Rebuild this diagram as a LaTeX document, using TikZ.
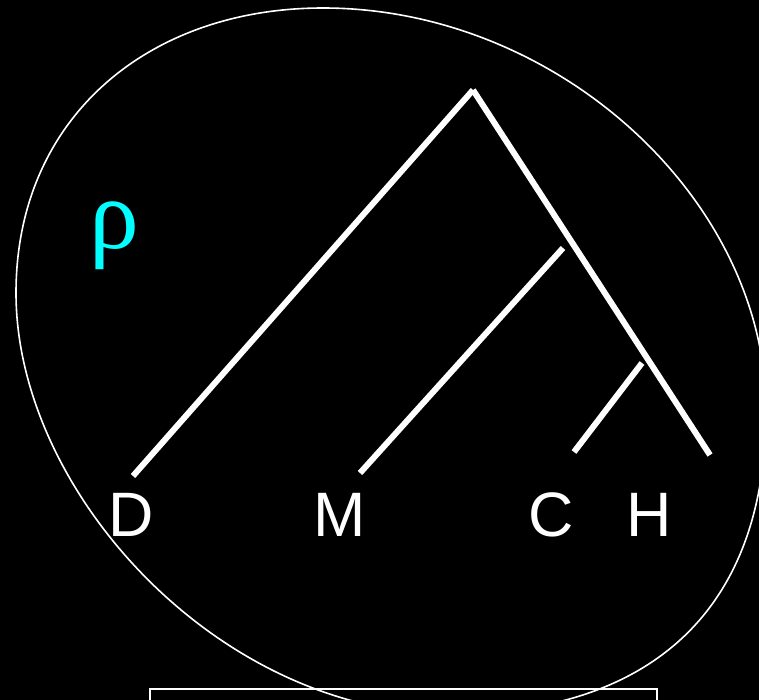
\documentclass[tikz,border=0pt]{standalone}
\usepackage{fontspec}
\setmainfont{Liberation Sans}
\newfontfamily\rhofont{Liberation Serif}
\definecolor{rhocyan}{RGB}{0,255,255}
\begin{document}
\begin{tikzpicture}[x=1bp,y=-1bp,
  branch/.style={draw=white,line width=6bp,line cap=butt},
  leaflabel/.style={text=white,anchor=base,inner sep=0pt,font=\fontsize{63}{70}\selectfont},
  outline/.style={draw=white,line width=1.6bp}]
\useasboundingbox (0,0) rectangle (759,700);
\fill[black] (0,0) rectangle (759,700);
\clip (0,0) rectangle (759,700);
% enclosing oval
\draw[outline] (323,8) .. controls (558,8) and (766,200) .. (766,410)
  .. controls (766,620) and (640,714) .. (450,714)
  .. controls (220,714) and (16,493) .. (16,293)
  .. controls (16,118) and (148,8) .. (323,8) -- cycle;
% lower box
\draw[outline] (150,689) rectangle (657,730);
% tree
\coordinate (root) at (473,90);
\coordinate (d) at (133,476);
\coordinate (h) at (710,455);
\coordinate (mtop) at (563,248);
\coordinate (mbot) at (360,473);
\coordinate (ctop) at (642,363);
\coordinate (cbot) at (574,452);
\draw[branch] (d) -- (root);
\draw[branch] (root) -- (h);
\draw[branch] (mbot) -- (mtop);
\draw[branch] (cbot) -- (ctop);
% labels
\node[leaflabel] (D) at (131,536) {D};
\node[leaflabel] (M) at (340,536) {M};
\node[leaflabel] (C) at (551,536) {C};
\node[leaflabel] (H) at (649.5,536) {H};
\node[text=rhocyan,anchor=base,inner sep=0pt,font=\rhofont\fontsize{100}{110}\selectfont] (rho) at (114,248) {ρ};
\end{tikzpicture}
\end{document}
